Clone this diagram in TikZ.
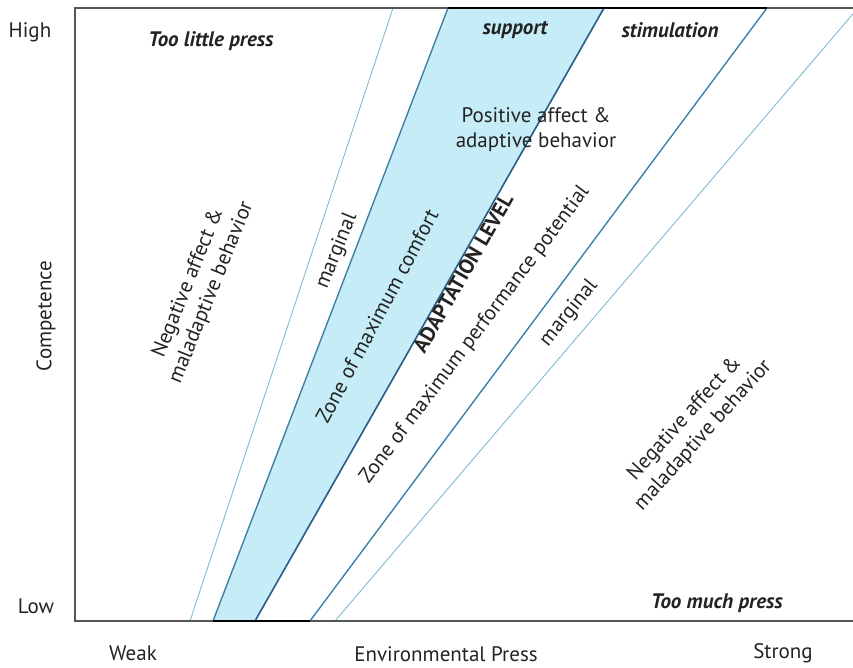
\documentclass[tikz,border=0pt]{standalone}
\usepackage{fontspec}
\setsansfont{PT Sans}
\usetikzlibrary{
  positioning,  % Function "of"
}
\definecolor{zonefill}{RGB}{198,236,247}
\definecolor{lightline}{RGB}{125,188,212}
\definecolor{midline}{RGB}{62,128,168}
\definecolor{darkline}{RGB}{38,92,138}
\definecolor{framegray}{RGB}{85,85,85}
\definecolor{textgray}{RGB}{35,35,35}
\def\mysize{\fontsize{21}{25}\selectfont}
\tikzset{
  font=\sffamily,
  semithick,
  axis label/.style={
    font=\sffamily\mysize,
    text=textgray,
    inner sep=0pt
  },
  press label/.style={
    font=\sffamily\bfseries\itshape\mysize,
    text=textgray,
    inner sep=0pt
  },
  zone label/.style={
    font=\sffamily\mysize,
    text=textgray,
    align=center,
    inner sep=0pt
  },
  level label/.style={
    zone label,
    font=\sffamily\bfseries\mysize
  },
  frame line/.style={
    draw=framegray,
    line width=1.6pt
  },
  frame bold/.style={
    draw=black,
    line width=2.6pt
  },
  thin border/.style={
    draw=lightline,
    line width=0.9pt
  },
  zone border/.style={
    draw=midline,
    line width=1.4pt
  },
  level border/.style={
    draw=darkline,
    line width=1.6pt
  }
}
\begin{document}
\begin{tikzpicture}[x=1pt,y=-1pt]
\useasboundingbox (0,0) rectangle (853,668);
% frame corners
\coordinate (tl) at (75,8);
\coordinate (tr) at (853,8);
\coordinate (bl) at (75,621);
\coordinate (br) at (853,621);
% borders of the zones, bottom and top
\coordinate (b1) at (190,621);  \coordinate (t1) at (393,8);
\coordinate (b2) at (213,621);  \coordinate (t2) at (448,8);
\coordinate (b3) at (255,621);  \coordinate (t3) at (604,8);
\coordinate (b4) at (310,621);  \coordinate (t4) at (767,8);
\coordinate (b5) at (335,621);  \coordinate (t5) at (858,8);
% zone of maximum comfort
\fill[zonefill] (b2) -- (t2) -- (t3) -- (b3) -- cycle;
\draw[thin border] (b1) -- (t1);
\draw[zone border] (b2) -- (t2);
\draw[level border] (b3) -- (t3);
\draw[zone border] (b4) -- (t4);
\begin{scope}
\clip (tl) rectangle (br);
\draw[thin border] (b5) -- (t5);
\end{scope}
% frame
\draw[frame line] (tr) -- (tl) -- (bl) -- (br);
\draw[frame bold] (t2) -- (t4);
\draw[frame bold] (b2) -- (b4);
% axes
\node[axis label] (high) at (30,32) {High};
\node[axis label] (low) at (36,606) {Low};
\node[axis label, rotate=90] (comp) at (46,316) {Competence};
\node[axis label] (weak) at (133,653) {Weak};
\node[axis label] (env) at (446,654) {Environmental Press};
\node[axis label] (strong) at (783,653) {Strong};
% press
\node[press label] (little) at (211,41) {Too little press};
\node[press label] (support) at (515,30) {support};
\node[press label] (stim) at (670,30) {stimulation};
\node[press label] (much) at (717,603) {Too much press};
% zones
\node[zone label] (pos) at (536,130) {Positive affect \&\\adaptive behavior};
\node[zone label, rotate=68] (negl) at (200,288) {Negative affect \&\\maladaptive behavior};
\node[zone label, rotate=68] (margl) at (337,251) {marginal};
\node[zone label, rotate=62] (comfort) at (377,316) {Zone of maximum comfort};
\node[level label, rotate=60] (adapt) at (463,273) {ADAPTATION LEVEL};
\node[zone label, rotate=53] (perf) at (475,335) {Zone of maximum performance potential};
\node[zone label, rotate=51] (margr) at (569,313) {marginal};
\node[zone label, rotate=48] (negr) at (694,427) {Negative affect \&\\maladaptive behavior};
\end{tikzpicture}
\end{document}
